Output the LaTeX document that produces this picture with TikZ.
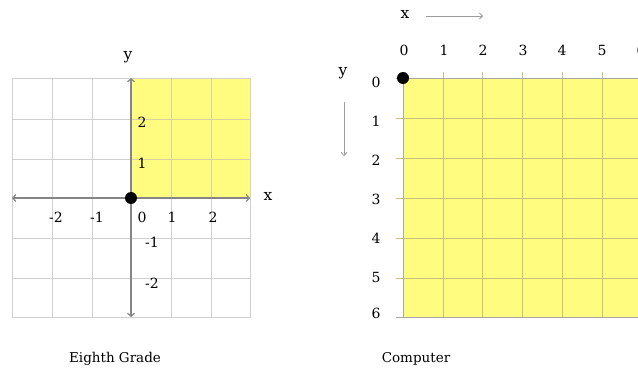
\documentclass[tikz,border=0pt]{standalone}
\usepackage{fontspec}
\setmainfont{DejaVu Serif}
\usetikzlibrary{arrows.meta}
\definecolor{gridgray}{HTML}{D0D0D0}
\definecolor{ylw}{HTML}{FFFC80}
\definecolor{axgray}{HTML}{858585}
\definecolor{ygrid}{HTML}{C8C27A}
\tikzset{
  lbl/.style={font=\fontsize{14}{16}\selectfont, inner sep=0pt, text=black},
  axlbl/.style={font=\fontsize{15.5}{18}\selectfont, inner sep=0pt, text=black},
  captionlbl/.style={font=\fontsize{13.5}{16}\selectfont, inner sep=0pt, text=black},
  axisline/.style={draw=axgray, line width=1.2pt, {Straight Barb[length=3pt,width=7pt]}-{Straight Barb[length=3pt,width=7pt]}},
  pointer/.style={draw=axgray!80, line width=0.8pt, -{Straight Barb[length=3pt,width=6pt]}},
  dot/.style={circle, fill=black, minimum size=12pt, inner sep=0pt}
}
\begin{document}
\begin{tikzpicture}[x=1pt,y=-1pt]
\useasboundingbox (0,0) rectangle (638,369);
% ---------- left: eighth grade ----------
\fill[ylw] (131,78) rectangle (250,198);
\foreach \x in {52,92,171,211} \draw[gridgray, line width=0.8pt] (\x,78) -- (\x,317);
\foreach \y in {119,159,238,278} \draw[gridgray, line width=0.8pt] (12,\y) -- (250,\y);
\draw[gridgray, line width=0.8pt] (12,78) rectangle (250,317);
\draw[ygrid!70!white, line width=0.8pt] (171,78) -- (171,198) (211,78) -- (211,198) (131,119) -- (250,119) (131,159) -- (250,159);
\coordinate (L) at (12,198); \coordinate (R) at (250,198);
\coordinate (T) at (131,78); \coordinate (B) at (131,317);
\draw[axisline] (L) -- (R);
\draw[axisline] (B) -- (T);
\node[dot] (o1) at (131,198) {};
\node[axlbl] (ly) at (128,57) {y};
\node[axlbl] (lx) at (268,196) {x};
\node[lbl] (a2) at (142,122) {2};
\node[lbl] (a1) at (142,163) {1};
\node[lbl] (b0) at (142,217) {0};
\node[lbl] (b1) at (172,217) {1};
\node[lbl] (b2) at (213,217) {2};
\node[lbl] (bm2) at (56,217) {-2};
\node[lbl] (bm1) at (97,217) {-1};
\node[lbl] (cm1) at (152,242) {-1};
\node[lbl] (cm2) at (152,283) {-2};
\node[captionlbl] (c1) at (115,359) {Eighth Grade};
% ---------- right: computer ----------
\begin{scope}
\clip (300,0) rectangle (638,369);
\fill[ylw] (403,78) rectangle (660,317);
\foreach \x in {443,482,522,562,602,642}
  \draw[ygrid, line width=0.8pt] (\x,72) -- (\x,317);
\foreach \y in {118,158,198,238,278}
  \draw[ygrid, line width=0.8pt] (396,\y) -- (660,\y);
\draw[gridgray!80!black, line width=0.8pt] (396,317) -- (660,317);
\draw[gridgray!80!black, line width=0.8pt] (403,72) -- (403,317);
\draw[gridgray!80!black, line width=0.8pt] (396,78) -- (660,78);
\foreach \v/\x in {0/404,1/444,2/483,3/523,4/562,5/602,6/641}
  \node[lbl] (t\v) at (\x,50) {\v};
\end{scope}
\foreach \v/\y in {0/82,1/121,2/160,3/199,4/238,5/277,6/313}
  \node[lbl] (s\v) at (376,\y) {\v};
\node[dot] (o2) at (403,78) {};
\node[axlbl] (rx) at (405,14) {x};
\coordinate (xa) at (426,16); \coordinate (xb) at (483,16);
\draw[pointer] (xa) -- (xb);
\node[axlbl] (ry) at (343,73) {y};
\coordinate (ya) at (344,102); \coordinate (yb) at (344,156);
\draw[pointer] (ya) -- (yb);
\node[captionlbl] (c2) at (416,359) {Computer};
\end{tikzpicture}
\end{document}
